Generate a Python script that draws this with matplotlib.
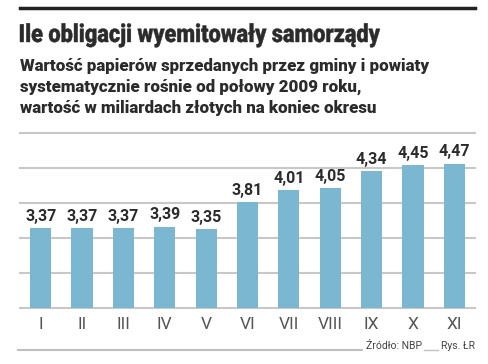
import matplotlib
matplotlib.use("Agg")
import matplotlib.pyplot as plt
from matplotlib.lines import Line2D
from matplotlib.textpath import TextPath
from matplotlib.patches import PathPatch
from matplotlib.font_manager import FontProperties
from matplotlib.transforms import Affine2D, IdentityTransform

categories = ["I", "II", "III", "IV", "V", "VI", "VII", "VIII", "IX", "X", "XI"]
values = [3.37, 3.37, 3.37, 3.39, 3.35, 3.81, 4.01, 4.05, 4.34, 4.45, 4.47]
value_labels = ["3,37", "3,37", "3,37", "3,39", "3,35", "3,81", "4,01", "4,05", "4,34", "4,45", "4,47"]
gridlines = [2.0, 2.6, 3.2, 3.8, 4.4, 5.0]

title = "Ile obligacji wyemitowały samorządy"
subtitle = ("Wartość papierów sprzedanych przez gminy i powiaty\n"
            "systematycznie rośnie od połowy 2009 roku,\n"
            "wartość w miliardach złotych na koniec okresu")

W, H = 488, 364
fig = plt.figure(figsize=(W / 100, H / 100), dpi=100)
fig.patch.set_facecolor("white")

ax = fig.add_axes([20 / W, 1 - 307.7 / H, 455 / W, 175 / H])
x = list(range(len(categories)))
ax.bar(x, values, width=0.51, color="#7bb7d0", bottom=0, zorder=3)
ax.set_ylim(2.0, 5.0)
ax.set_xlim(-0.5, 10.5)
for g in gridlines:
    ax.axhline(g, color="#c8c8c8", lw=1.5, zorder=1, clip_on=False)
for s in ax.spines.values():
    s.set_visible(False)
ax.set_yticks([])
ax.set_xticks(x)
ax.set_xticklabels(categories, fontfamily="Roboto", fontweight="normal",
                   fontsize=12.5, color="#555555")
ax.tick_params(axis="x", length=0, pad=7)
for xi, v, lab in zip(x, values, value_labels):
    ax.annotate(lab, (xi, v), xytext=(0, 3), textcoords="offset points",
                ha="center", va="bottom", fontfamily="Roboto", fontweight="bold",
                fontsize=11.5, color="#2b2b2b", zorder=4)

# top black rule
fig.add_artist(Line2D([20 / W, 475 / W], [1 - 8 / H, 1 - 8 / H], color="#222222", lw=2.5))

# condensed heavy title, drawn as a horizontally squeezed text path
fp = FontProperties(family="Roboto", weight="black")
tp = TextPath((0, 0), title, size=25, prop=fp)
ext = tp.get_extents()
target_w = 360.0
sx = target_w / (ext.x1 - ext.x0)
base_y = H - 42  # baseline in pixels from bottom
tr = Affine2D().translate(-ext.x0, 0).scale(sx, 1.0).translate(20, base_y) + IdentityTransform()
patch = PathPatch(tp, transform=tr, facecolor="#2b2b2b", edgecolor="#2b2b2b", lw=0.3)
fig.add_artist(patch)

fig.text(20 / W, 1 - 58 / H, subtitle, fontfamily="Roboto", fontweight="heavy",
         fontsize=12.2, color="#2b2b2b", va="top", ha="left", linespacing=1.38)

# bottom rules and source
fig.add_artist(Line2D([18 / W, 362 / W], [1 - 350 / H, 1 - 350 / H], color="#c0c0c0", lw=1.5))
fig.add_artist(Line2D([424 / W, 438 / W], [1 - 350 / H, 1 - 350 / H], color="#c0c0c0", lw=1.0))
fig.text(366 / W, 1 - 346 / H, "Źródło: NBP", fontfamily="Roboto", fontsize=7.5,
         color="#444444", va="center", ha="left")
fig.text(475 / W, 1 - 346 / H, "Rys. ŁR", fontfamily="Roboto", fontsize=7.5,
         color="#444444", va="center", ha="right")

fig.savefig("out.png", dpi=100, facecolor="white")
